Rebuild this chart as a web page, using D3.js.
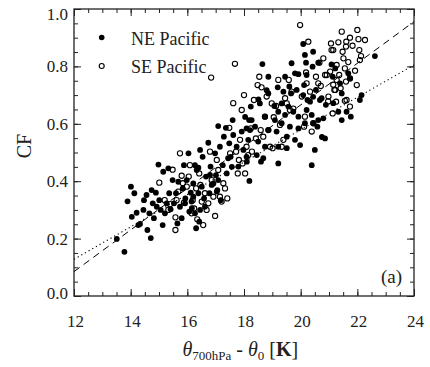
<!DOCTYPE html>
<html>
<head>
<meta charset="utf-8">
<script src="https://cdn.jsdelivr.net/npm/d3@7"></script>
<style>
  body { margin: 0; background: #fff; }
  svg { display: block; font-family: "Liberation Serif", "Times New Roman", serif; }
</style>
</head>
<body>
<svg id="chart" width="430" height="367"></svg>
<script>
// NE Pacific (filled), [theta diff, CF]
const neData = [
  [13.51,0.199],[13.78,0.154],[13.89,0.330],[14.01,0.381],[14.13,0.358],[14.04,0.276],[14.21,0.290],[14.27,0.247],
  [14.33,0.251],[14.45,0.300],[14.47,0.334],[14.56,0.352],[14.59,0.230],[14.66,0.288],[14.71,0.202],[14.74,0.369],
  [14.78,0.323],[14.82,0.271],[14.89,0.360],[14.92,0.311],[14.98,0.458],[15.01,0.334],[15.06,0.300],[15.13,0.247],
  [15.15,0.433],[15.21,0.288],[15.27,0.323],[15.33,0.445],[15.36,0.358],[15.41,0.302],[15.48,0.404],[15.53,0.323],
  [15.60,0.358],[15.65,0.253],[15.68,0.398],[15.74,0.311],[15.80,0.271],[15.84,0.375],[15.88,0.456],[15.93,0.340],
  [15.98,0.404],[16.04,0.497],[16.07,0.294],[16.12,0.360],[16.15,0.329],[16.21,0.392],[16.27,0.288],[16.31,0.236],
  [16.33,0.439],[16.39,0.358],[16.42,0.259],[16.45,0.509],[16.51,0.381],[16.54,0.485],[16.59,0.340],[16.62,0.311],
  [16.66,0.416],[16.74,0.534],[16.78,0.358],[16.82,0.451],[16.92,0.392],[16.98,0.497],[17.01,0.421],[17.06,0.369],
  [17.09,0.592],[17.15,0.520],[17.18,0.334],[17.25,0.456],[17.29,0.555],[17.36,0.586],[17.39,0.427],[17.48,0.532],
  [17.53,0.485],[17.60,0.613],[17.62,0.561],[17.74,0.520],[17.80,0.451],[17.92,0.573],[17.98,0.509],[18.04,0.624],
  [18.18,0.613],[18.21,0.578],[17.44,0.480],[17.57,0.450],[18.10,0.468],[16.80,0.422],[17.09,0.404],[16.86,0.387],
  [17.04,0.364],[16.21,0.346],[15.92,0.323],[16.16,0.306],[16.45,0.300],[16.39,0.447],[16.27,0.456],[18.19,0.401],
  [18.60,0.468],
  [20.09,0.878],[20.44,0.851],[20.15,0.840],[19.68,0.811],[20.19,0.813],[18.65,0.808],[20.62,0.813],[19.45,0.764],
  [19.80,0.776],[19.92,0.773],[20.21,0.770],[18.86,0.764],[19.19,0.727],[19.39,0.712],[19.66,0.706],[19.86,0.718],
  [20.09,0.700],[20.44,0.694],[20.33,0.677],[20.74,0.689],[18.86,0.706],[18.56,0.671],[19.07,0.662],[19.33,0.671],
  [19.57,0.660],[19.21,0.642],[19.45,0.631],[19.74,0.642],[19.92,0.625],[20.21,0.648],[20.39,0.631],[20.62,0.613],
  [19.09,0.613],[18.74,0.625],[18.27,0.613],[19.33,0.602],[19.62,0.590],[19.92,0.584],[20.15,0.602],[20.44,0.602],
  [18.09,0.584],[18.39,0.590],[18.86,0.578],[19.15,0.573],[19.51,0.555],[19.80,0.544],[18.15,0.544],[18.50,0.538],
  [18.74,0.520],[19.21,0.520],[19.51,0.515],[19.98,0.526],[20.50,0.509],[18.09,0.485],[18.45,0.491],[18.68,0.480],
  [19.21,0.462],[20.39,0.456],[18.24,0.660],[18.51,0.685],[18.80,0.717],[19.60,0.730],[20.12,0.735],[20.24,0.683],
  [20.54,0.718],[20.59,0.590],[20.42,0.799],
  [21.09,0.807],[21.22,0.793],[21.68,0.776],[21.74,0.758],[20.68,0.683],[20.89,0.666],[21.45,0.706],[21.15,0.672],
  [22.15,0.700],[22.09,0.683],[21.33,0.642],[21.62,0.642],[21.77,0.625],[21.45,0.613],[20.80,0.619],[20.75,0.554],
  [20.86,0.549],[22.62,0.836],[21.39,0.741],[21.13,0.764]
];

// SE Pacific (open)
const seData = [
  [15.01,0.395],[15.20,0.334],[15.33,0.300],[15.39,0.320],[15.48,0.440],[15.58,0.274],[15.58,0.230],[15.62,0.334],
  [15.68,0.364],[15.74,0.497],[15.80,0.419],[15.84,0.393],[15.88,0.325],[15.98,0.381],[16.05,0.416],[16.09,0.456],
  [16.15,0.288],[16.19,0.334],[16.24,0.305],[16.31,0.375],[16.35,0.267],[16.42,0.427],[16.46,0.387],[16.51,0.329],
  [16.56,0.247],[16.62,0.358],[16.68,0.300],[16.74,0.323],[16.80,0.503],[16.84,0.761],[16.86,0.404],[16.92,0.346],
  [16.98,0.279],[17.04,0.474],[17.09,0.439],[17.15,0.346],[17.21,0.329],[17.27,0.393],[17.33,0.375],[17.41,0.340],
  [17.48,0.586],[17.51,0.497],[17.62,0.672],[17.68,0.809],[17.72,0.503],[17.78,0.427],[17.82,0.474],[17.86,0.544],
  [17.92,0.648],[17.95,0.462],[18.00,0.700],[18.04,0.427],[18.09,0.520],[18.15,0.491],[18.24,0.584],[18.28,0.503],
  [18.35,0.683],[18.42,0.549],[18.48,0.735],[18.54,0.764],[18.59,0.578],[18.62,0.727],[18.68,0.555],[18.74,0.625],
  [18.80,0.695],[18.86,0.578],[18.92,0.520],[18.98,0.671],[19.01,0.515],[19.05,0.623],[19.13,0.662],[19.21,0.753],
  [19.27,0.596],[19.33,0.520],[19.39,0.544],[19.45,0.689],[19.51,0.671],[19.58,0.753],[19.62,0.648],[19.68,0.712],
  [19.74,0.653],[19.98,0.944],[20.04,0.695],[20.12,0.590],[20.15,0.625],[20.19,0.779],[20.21,0.741],[20.27,0.886],
  [20.33,0.712],[20.39,0.573],[20.45,0.602],[20.54,0.764],[20.62,0.741],[20.66,0.813],[20.71,0.732],[20.80,0.828],
  [20.86,0.770],[20.98,0.695],[21.04,0.782],[21.07,0.880],[21.13,0.636],[21.15,0.857],[21.19,0.718],[21.25,0.677],
  [21.27,0.805],[21.33,0.884],[21.36,0.770],[21.41,0.724],[21.45,0.921],[21.48,0.851],[21.51,0.828],[21.56,0.793],
  [21.60,0.869],[21.62,0.683],[21.68,0.815],[21.74,0.900],[21.74,0.758],[21.83,0.872],[21.92,0.785],[21.98,0.735],
  [22.00,0.927],[22.04,0.895],[22.07,0.857],[22.09,0.822],[22.13,0.836],[22.27,0.892],[21.27,0.753],[21.15,0.736],
  [21.60,0.747],[20.92,0.770],[21.22,0.718],[20.97,0.678],[21.56,0.680],[21.74,0.660],[21.61,0.886],[21.09,0.857]
];

const dashedFit = [[12, 0.085], [24, 0.956]];
const dottedFit = [[12, 0.128], [24, 0.805]];

const xTicks = [12, 14, 16, 18, 20, 22, 24];
const yTicks = [0, 0.2, 0.4, 0.6, 0.8, 1.0];
const legendLabels = ["NE Pacific", "SE Pacific"];

const svg = d3.select("#chart");
const ink = "#222";

const x = d3.scaleLinear().domain([12, 24]).range([74, 414]);
const y = d3.scaleLinear().domain([0, 1]).range([296, 9]);

function styleAxis(sel) {
  sel.select(".domain").remove();
  sel.attr("font-family", null).attr("font-size", 17);
  sel.selectAll("line").attr("stroke", ink);
  sel.selectAll("text").attr("fill", ink);
}

// minor ticks
svg.append("g").attr("transform", "translate(0,296)")
  .call(d3.axisBottom(x).tickValues(d3.range(12, 24.01, 0.5)).tickSize(-4).tickFormat(""))
  .call(styleAxis);
svg.append("g").attr("transform", "translate(0,9)")
  .call(d3.axisTop(x).tickValues(d3.range(12, 24.01, 0.5)).tickSize(-4).tickFormat(""))
  .call(styleAxis);
svg.append("g").attr("transform", "translate(74,0)")
  .call(d3.axisLeft(y).tickValues(d3.range(0, 1.001, 0.05)).tickSize(-4).tickFormat(""))
  .call(styleAxis);
svg.append("g").attr("transform", "translate(414,0)")
  .call(d3.axisRight(y).tickValues(d3.range(0, 1.001, 0.05)).tickSize(-4).tickFormat(""))
  .call(styleAxis);

// major ticks + labels
svg.append("g").attr("transform", "translate(0,296)")
  .call(d3.axisBottom(x).tickValues(xTicks).tickSize(-7).tickPadding(19).tickFormat(d3.format("d")))
  .call(styleAxis)
  .call((g) => g.selectAll("text").attr("dx", 1));
svg.append("g").attr("transform", "translate(0,9)")
  .call(d3.axisTop(x).tickValues(xTicks).tickSize(-7).tickFormat(""))
  .call(styleAxis);
svg.append("g").attr("transform", "translate(74,0)")
  .call(d3.axisLeft(y).tickValues(yTicks).tickSize(-7).tickPadding(6).tickFormat(d3.format(".1f")))
  .call(styleAxis)
  .call((g) => g.selectAll("text").attr("y", (d) => (d === 0 ? -3 : d === 1 ? 5.5 : 0)));
svg.append("g").attr("transform", "translate(414,0)")
  .call(d3.axisRight(y).tickValues(yTicks).tickSize(-7).tickFormat(""))
  .call(styleAxis);

// frame
svg.append("rect")
  .attr("x", 74).attr("y", 9).attr("width", 340).attr("height", 287)
  .attr("fill", "none").attr("stroke", ink).attr("stroke-width", 1.3);

// fit lines
const line = d3.line().x((d) => x(d[0])).y((d) => y(d[1]));
svg.append("path").datum(dashedFit).attr("d", line)
  .attr("fill", "none").attr("stroke", "#000").attr("stroke-width", 1)
  .attr("stroke-dasharray", "7,5");
svg.append("path").datum(dottedFit).attr("d", line)
  .attr("fill", "none").attr("stroke", "#000").attr("stroke-width", 1.1)
  .attr("stroke-dasharray", "1.2,3");

// points
svg.append("g").selectAll("circle").data(seData).join("circle")
  .attr("cx", (d) => x(d[0])).attr("cy", (d) => y(d[1])).attr("r", 2.6)
  .attr("fill", "none").attr("stroke", "#000").attr("stroke-width", 1.1);
svg.append("g").selectAll("circle").data(neData).join("circle")
  .attr("cx", (d) => x(d[0])).attr("cy", (d) => y(d[1])).attr("r", 2.9)
  .attr("fill", "#000");

// legend
const legend = svg.append("g");
legend.append("circle").attr("cx", 101.7).attr("cy", 37.5).attr("r", 2.8).attr("fill", "#000");
legend.append("circle").attr("cx", 101.7).attr("cy", 66).attr("r", 2.5)
  .attr("fill", "none").attr("stroke", "#000").attr("stroke-width", 1.1);
legend.selectAll("text").data(legendLabels).join("text")
  .attr("x", 131).attr("y", (d, i) => 45 + i * 27.7)
  .attr("font-size", 18).attr("fill", ink)
  .text((d) => d);

// panel tag
svg.append("text").attr("x", 402).attr("y", 283).attr("text-anchor", "end")
  .attr("font-size", 19).attr("fill", ink).text("(a)");

// axis titles
svg.append("text").attr("transform", "translate(31,146) rotate(-90)")
  .attr("text-anchor", "middle").attr("font-size", 20).attr("fill", ink).text("CF");

const xt = svg.append("text").attr("x", 182.5).attr("y", 356)
  .attr("font-size", 20).attr("fill", ink);
xt.append("tspan").attr("font-style", "italic").text("θ");
xt.append("tspan").attr("font-size", 13).attr("dy", 4).text("700hPa");
xt.append("tspan").attr("dy", -4).text(" - ");
xt.append("tspan").attr("font-style", "italic").text("θ");
xt.append("tspan").attr("font-size", 13).attr("dy", 4).text("0");
xt.append("tspan").attr("dy", -4).text(" [");
xt.append("tspan").attr("font-weight", "bold").text("K");
xt.append("tspan").text("]");
</script>
</body>
</html>
